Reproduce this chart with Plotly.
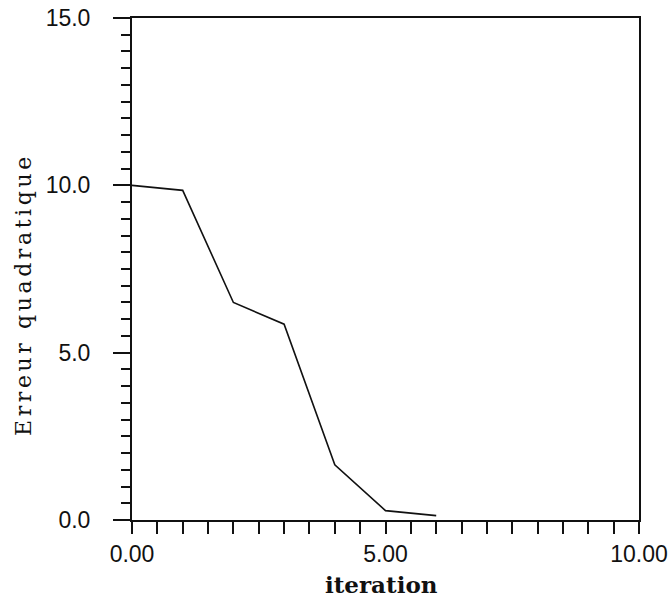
import plotly.graph_objects as go

# Squared error per training iteration
iterations = [0, 1, 2, 3, 4, 5, 6]
erreur = [10.0, 9.85, 6.5, 5.85, 1.65, 0.28, 0.13]

x_title = "iteration"
y_title = "Erreur quadratique"

fig = go.Figure()
fig.add_trace(go.Scatter(
    x=iterations, y=erreur, mode="lines",
    line=dict(color="#111111", width=1.6),
    showlegend=False, cliponaxis=False,
))

tick_font = dict(family="Liberation Sans", size=23, color="#111111")

fig.update_xaxes(
    range=[0, 10], tickmode="linear", tick0=0, dtick=5, tickformat=".2f",
    ticks="outside", ticklen=12, tickwidth=2, tickcolor="#111111",
    minor=dict(dtick=0.5, ticks="outside", ticklen=12, tickwidth=2, tickcolor="#111111"),
    showline=True, linewidth=2, linecolor="#111111", mirror=True,
    showgrid=False, zeroline=False, tickfont=tick_font, ticklabelstandoff=0,
    automargin=False,
)
fig.update_yaxes(
    range=[0, 15], tickmode="linear", tick0=0, dtick=5, tickformat=".1f",
    ticks="outside", ticklen=17, tickwidth=2, tickcolor="#111111",
    minor=dict(dtick=0.5, ticks="outside", ticklen=9, tickwidth=2, tickcolor="#111111"),
    showline=True, linewidth=2, linecolor="#111111", mirror=True,
    showgrid=False, zeroline=False, tickfont=tick_font, ticklabelstandoff=18,
    automargin=False,
)

fig.add_annotation(
    text=f"<b>{x_title}</b>", xref="paper", yref="paper", x=0.493, y=-0.128,
    xanchor="center", yanchor="middle", showarrow=False,
    font=dict(family="DejaVu Serif", size=23, color="#111111"),
    name="xtitle",
)
fig.add_annotation(
    text=y_title, xref="paper", yref="paper", x=-0.214, y=0.448,
    xanchor="center", yanchor="middle", textangle=-90, showarrow=False,
    font=dict(family="DejaVu Serif", size=22, color="#111111"),
    name="ytitle",
)

fig.update_layout(
    width=671, height=599,
    margin=dict(l=132, r=32, t=18, b=79),
    paper_bgcolor="white", plot_bgcolor="white",
)

# widen the letter spacing of the rotated axis title
spacing_js = """
var anns = document.querySelectorAll('.annotation-text');
if (anns.length > 1) { anns[1].setAttribute('letter-spacing', '3.6px'); }
"""

fig.write_html("out.html", post_script=spacing_js)
